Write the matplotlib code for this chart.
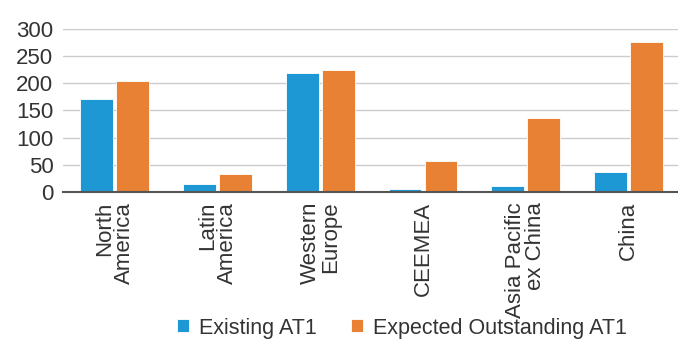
import matplotlib
matplotlib.use('Agg')
import matplotlib.pyplot as plt
import numpy as np

regions = ['North\nAmerica', 'Latin\nAmerica', 'Western\nEurope', 'CEEMEA',
           'Asia Pacific\nex China', 'China']
existing = [172, 14, 219, 5, 12, 37]
expected = [205, 34, 225, 57, 137, 275]
yticks = [0, 50, 100, 150, 200, 250, 300]

blue = '#1E98D4'
orange = '#E88133'
txt = '#333333'

plt.rcParams['font.family'] = ['Liberation Sans', 'DejaVu Sans']

fig = plt.figure(figsize=(6.78, 3.40), dpi=100)
ax = fig.add_axes([0.093, 0.435, 0.907, 0.48])

x = np.arange(len(regions))
w = 0.32
ax.bar(x - 0.175, existing, w, color=blue, edgecolor='white', linewidth=0.6,
       label='Existing AT1', zorder=3)
ax.bar(x + 0.175, expected, w, color=orange, edgecolor='white', linewidth=0.6,
       label='Expected Outstanding AT1', zorder=3)

ax.set_xlim(-0.5, 5.48)
ax.set_ylim(0, 300)
ax.set_yticks(yticks)
ax.grid(axis='y', color='#cccccc', linewidth=1, zorder=0)
ax.set_axisbelow(True)
for s in ['top', 'right', 'left']:
    ax.spines[s].set_visible(False)
ax.spines['bottom'].set_color('#555555')
ax.spines['bottom'].set_linewidth(1.5)
ax.spines['bottom'].set_zorder(4)
ax.tick_params(length=0, labelsize=16, colors=txt)
ax.tick_params(axis='y', pad=7)

ax.set_xticks(x)
ax.set_xticklabels(regions, rotation=90, ha='center', va='top',
                   multialignment='right', linespacing=0.95)
ax.tick_params(axis='x', pad=7)

fig.legend(loc='center', bbox_to_anchor=(0.593, 0.035), ncol=2, frameon=False,
           fontsize=15.5, handlelength=0.55, handleheight=0.55, handletextpad=0.45,
           columnspacing=1.6, labelcolor=txt, borderpad=0.1)

fig.savefig('out.png', dpi=100)
